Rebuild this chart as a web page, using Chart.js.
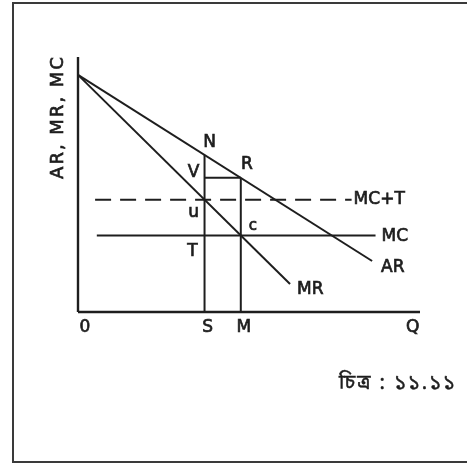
<!DOCTYPE html>
<html>
<head>
<meta charset="utf-8">
<script src="https://cdn.jsdelivr.net/npm/chart.js@4.4.0/dist/chart.umd.min.js"></script>
<style>
  html, body { margin:0; padding:0; background:#fff; overflow:hidden; }
  #wrap { position:relative; width:467px; height:466px; }
  #frame { position:absolute; left:12px; top:2px; width:470px; height:457px; border:2px solid #3a3a3a; box-sizing:content-box; }
  canvas { position:absolute; left:0; top:0; }
</style>
</head>
<body>
<div id="wrap">
  <div id="frame"></div>
  <canvas id="chart" width="467" height="466"></canvas>
</div>
<script>
// quantity (q) and price (p) in chart units, 0..100 on both axes
const priceIntercept = 93;
const arQ = [0, 86], arP = [priceIntercept, 20];
const mrQ = [0, 62], mrP = [priceIntercept, 11];
const mcLevel = 30, mcQ = [5.5, 87];
const mctLevel = 44, mctQ = [5, 80];
const qS = 37, qM = 47.6;
const pN = 61.6, pR = 52.6;
const qEnd = 100, pTop = 100;
const axisTicks = [['0', 0], ['S', qS], ['M', qM], ['Q', 97]];

const ink = '#1e1e1e';
const pts = (qs, ps) => qs.map((q, i) => ({ x: q, y: ps[i] }));
const line = (data, extra) => Object.assign({
  data, showLine: true, pointRadius: 0, borderColor: ink, borderWidth: 2, clip: false, tension: 0
}, extra || {});

// text labels anchored to points of the diagram, offsets in px
const labels = [
  { t: 'N', q: qS, p: pN, dx: 5, dy: -12 },
  { t: 'R', q: qM, p: pR, dx: 6, dy: -13 },
  { t: 'V', q: qS, p: pR, dx: -11, dy: -5 },
  { t: 'u', q: qS, p: mctLevel, dx: -11, dy: 13 },
  { t: 'c', q: qM, p: mcLevel, dx: 12, dy: -9, size: 15 },
  { t: 'T', q: qS, p: mcLevel, dx: -12, dy: 16 },
  { t: 'MR', q: mrQ[1], p: mrP[1], dx: 7, dy: 6, align: 'left' },
  { t: 'AR', q: arQ[1], p: arP[1], dx: 9, dy: 7, align: 'left' },
  { t: 'MC', q: mcQ[1], p: mcLevel, dx: 6, dy: 1, align: 'left' },
  { t: 'MC+T', q: mctQ[1], p: mctLevel, dx: 2, dy: 0, align: 'left' }
];

function inkText(ctx, s, x, y) {
  ctx.fillText(s, x, y);
  ctx.strokeText(s, x, y);
}

const labelPlugin = {
  id: 'labels',
  afterDraw(chart) {
    const { ctx, scales: { x, y } } = chart;
    ctx.save();
    ctx.fillStyle = ink;
    ctx.strokeStyle = ink;
    ctx.lineWidth = 0.7;
    ctx.textBaseline = 'middle';
    labels.forEach(l => {
      ctx.font = (l.size || 17) + 'px "DejaVu Sans"';
      ctx.textAlign = l.align || 'center';
      inkText(ctx, l.t, x.getPixelForValue(l.q) + l.dx, y.getPixelForValue(l.p) + l.dy);
    });
    // quantity axis marks
    ctx.font = '17px "DejaVu Sans"';
    ctx.textAlign = 'center';
    axisTicks.forEach(([t, q], i) => {
      inkText(ctx, t, x.getPixelForValue(q) + (i === 0 ? 7 : 3), y.getPixelForValue(0) + 16);
    });
    // vertical axis title
    ctx.save();
    ctx.translate(58, 117);
    ctx.rotate(-Math.PI / 2);
    ctx.font = '18px "DejaVu Sans"';
    ctx.letterSpacing = '2px';
    inkText(ctx, 'AR, MR, MC', 0, 0);
    ctx.restore();
    // figure number
    ctx.font = '20px "Noto Sans Bengali", "Noto Sans", sans-serif';
    ctx.letterSpacing = '2px';
    ctx.lineWidth = 0.5;
    inkText(ctx, 'চিত্র : ১১.১১', 398, 385);
    ctx.restore();
  }
};

new Chart(document.getElementById('chart'), {
  type: 'scatter',
  data: {
    datasets: [
      line(pts([0, 0], [0, pTop]), { borderWidth: 2.4 }),
      line(pts([0, qEnd], [0, 0]), { borderWidth: 2.4 }),
      line(pts(arQ, arP)),
      line(pts(mrQ, mrP)),
      line(pts(mcQ, [mcLevel, mcLevel])),
      line(pts(mctQ, [mctLevel, mctLevel]), { borderDash: [16, 9] }),
      line(pts([qS, qS], [0, pN])),
      line(pts([qM, qM], [0, pR])),
      line(pts([qS, qM], [pR, pR]))
    ]
  },
  options: {
    responsive: false,
    animation: false,
    layout: { padding: { left: 78, right: 47, top: 57, bottom: 154 } },
    scales: {
      x: { type: 'linear', min: 0, max: qEnd, display: false },
      y: { type: 'linear', min: 0, max: pTop, display: false }
    },
    plugins: { legend: { display: false }, tooltip: { enabled: false } }
  },
  plugins: [labelPlugin]
});
</script>
</body>
</html>
